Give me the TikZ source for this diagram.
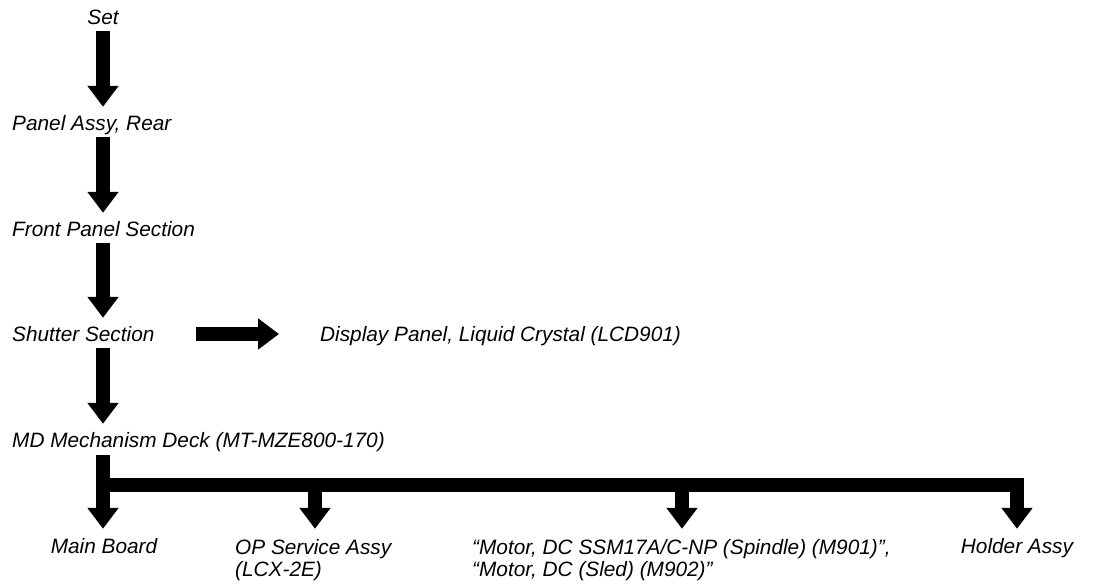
\documentclass[tikz,border=0pt]{standalone}
\usepackage{fontspec}
\setmainfont{Liberation Sans}
\usetikzlibrary{arrows.meta, positioning}

\begin{document}
\begin{tikzpicture}[
    x=1pt, y=-1pt,
    part/.style={
        font=\fontsize{20.8}{22}\selectfont\itshape, inner sep=0pt,
        text height=14pt, text depth=0pt, anchor=base west
    },
    partlist/.style={
        font=\fontsize{20.8}{22}\selectfont\itshape, inner sep=0pt,
        align=left, anchor=north west
    },
    fat/.style={
        line width=14pt, -{Triangle[length=21pt, width=30pt]}
    },
    bar/.style={line width=14pt, line join=miter}
]
\useasboundingbox (0,0) rectangle (1101,587);

% ===== Disassembly chain =====
\node[part, anchor=base] (set) at (103,24) {Set};
\node[part] (panel) at (12,130) {Panel Assy, Rear};
\node[part] (front) at (12,236) {Front Panel Section};
\node[part] (shutter) at (12,341) {Shutter Section};
\node[part] (display) at (320,341) {Display Panel, Liquid Crystal (LCD901)};
\node[part] (md) at (12,447) {MD Mechanism Deck (MT-MZE800-170)};

% ===== Parts under the deck =====
\node[part, anchor=base] (main) at (104,553) {Main Board};
\node[partlist] (op) at (235,539) {OP Service Assy\\(LCX-2E)};
\node[partlist] (motor) at (472,539) {%
    “Motor, DC SSM17A/C-NP (Spindle) (M901)”,\\
    “Motor, DC (Sled) (M902)”%
};
\node[part, anchor=base] (holder) at (1017,553) {Holder Assy};

\coordinate (spine) at (103,0);
\coordinate (fork) at (103,485);
\coordinate (opbr) at (315,485);
\coordinate (motorbr) at (682,485);

% Main chain arrows
\foreach \a/\b in {set/panel, panel/front, front/shutter, shutter/md} {
    \draw[fat, shorten <=7pt, shorten >=9pt]
        (spine |- \a.south) -- (spine |- \b.north);
}
\draw[fat, shorten <=41pt, shorten >=41pt] (shutter.east) -- (display.west);

% Fork
\draw[fat, shorten <=8pt, shorten >=10pt] (spine |- md.south) -- (spine |- main.north);
\draw[bar, -{Triangle[length=21pt, width=30pt]}, shorten >=10pt]
    (fork) -| (holder.north);
\draw[fat, shorten >=10pt] (opbr) -- (opbr |- main.north);
\draw[fat, shorten >=10pt] (motorbr) -- (motorbr |- main.north);

\end{tikzpicture}
\end{document}
